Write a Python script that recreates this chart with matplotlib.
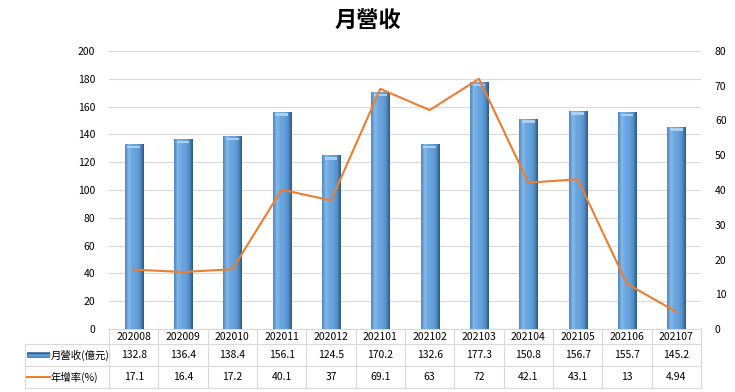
import numpy as np
import matplotlib
matplotlib.use("Agg")
import matplotlib.pyplot as plt
from matplotlib.colors import LinearSegmentedColormap

plt.rcParams['font.family'] = ['Noto Sans CJK TC', 'DejaVu Sans']

months = ['202008', '202009', '202010', '202011', '202012', '202101',
          '202102', '202103', '202104', '202105', '202106', '202107']
revenue = [132.8, 136.4, 138.4, 156.1, 124.5, 170.2, 132.6, 177.3, 150.8, 156.7, 155.7, 145.2]
yoy = [17.1, 16.4, 17.2, 40.1, 37, 69.1, 63, 72, 42.1, 43.1, 13, 4.94]
yoy_txt = ['17.1', '16.4', '17.2', '40.1', '37', '69.1', '63', '72', '42.1', '43.1', '13', '4.94']
rev_label = '月營收(億元)'
yoy_label = '年增率(%)'

blue = '#5b9bd5'
orange = '#ed7d31'
grid_c = '#d9d9d9'

fig = plt.figure(figsize=(7.35, 3.92), dpi=100)
ax = fig.add_axes([109/735, 1-329/392, 592/735, 278/392])
ax2 = ax.twinx()

# bars with a cylinder-ish shading
cmap = LinearSegmentedColormap.from_list('bar', ['#4f86bd', '#86b8e8', '#6aa6e0', '#65a1dc', '#5690c9', '#2e5a86'])
grad = np.linspace(0, 1, 64).reshape(1, -1)
w = 0.365
x = np.arange(len(months))
ax.bar(x, revenue, width=w, color=blue, zorder=2)
for i, v in enumerate(revenue):
    ax.imshow(grad, cmap=cmap, extent=(i - w/2, i + w/2, 0, v), aspect='auto', zorder=3)
    ax.bar(i, 1.8, bottom=v - 2.6, width=w*0.7, color='#a9d0f2', zorder=4)

ax.set_xlim(-0.5, len(months) - 0.5)
ax.set_ylim(0, 200)
ax.set_yticks(range(0, 201, 20))
ax.yaxis.grid(True, color=grid_c, lw=0.8, zorder=0)
ax.set_axisbelow(True)
ax.set_xticks([])

ax2.plot(x, yoy, color=orange, lw=1.5, zorder=5)
ax2.set_ylim(0, 80)
ax2.set_yticks(range(0, 81, 10))

for a in (ax, ax2):
    for s in a.spines.values():
        s.set_visible(False)
    a.tick_params(length=0, labelsize=7.5, pad=10)
ax2.tick_params(pad=10)
ax2.set_zorder(2)
ax2.patch.set_visible(False)
ax.set_zorder(1)

fig.text(0.5, 0.947, '月營收', ha='center', va='center', fontsize=16, fontweight='bold')

# data table below the plot
tr = ax.get_xaxis_transform()
cw = 592 / len(months)
lab_left = -0.5 - (109 - 25) / cw
y_hdr = -0.0288
y_r1 = -0.0935
y_r2 = -0.1727
b1, b2, b3 = -0.054, -0.133, -0.212
kw = dict(transform=tr, clip_on=False, color=grid_c, lw=0.8)
ax.plot([-0.5, len(months) - 0.5], [0, 0], **kw)
for yb in (b1, b2, b3):
    ax.plot([lab_left, len(months) - 0.5], [yb, yb], **kw)
ax.plot([lab_left, lab_left], [b1, b3], **kw)
for k in range(len(months) + 1):
    ax.plot([k - 0.5, k - 0.5], [0, b3], **kw)
for i, m in enumerate(months):
    ax.text(i, y_hdr, m, transform=tr, ha='center', va='center', fontsize=7.5)
    ax.text(i, y_r1, f'{revenue[i]:.1f}', transform=tr, ha='center', va='center', fontsize=7.5)
    ax.text(i, y_r2, yoy_txt[i], transform=tr, ha='center', va='center', fontsize=7.5)

ic0 = lab_left + 0.04
ic1 = lab_left + 0.5
ax.plot([ic0, ic1], [y_r1, y_r1], transform=tr, clip_on=False, color='#2f5f8f', lw=4, solid_capstyle='butt')
ax.plot([ic0, ic1], [y_r1, y_r1], transform=tr, clip_on=False, color=blue, lw=2, solid_capstyle='butt')
ax.plot([ic0, ic1], [y_r2, y_r2], transform=tr, clip_on=False, color=orange, lw=1.5)
ax.text(ic1 + 0.02, y_r1, rev_label, transform=tr, ha='left', va='center', fontsize=7.5)
ax.text(ic1 + 0.02, y_r2, yoy_label, transform=tr, ha='left', va='center', fontsize=7.5)

fig.savefig('out.png', dpi=100)
